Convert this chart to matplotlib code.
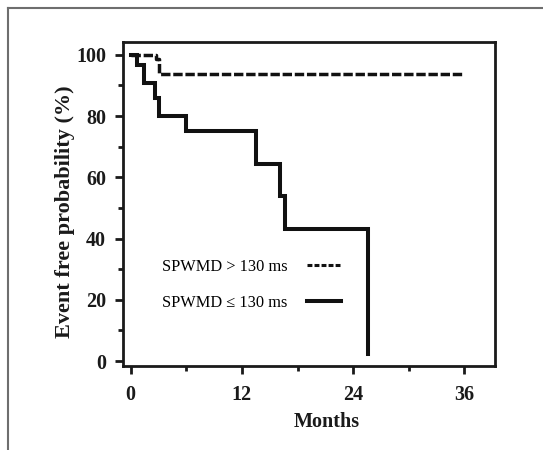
import matplotlib
matplotlib.use("Agg")
import matplotlib.pyplot as plt
from matplotlib.lines import Line2D
from matplotlib.ticker import MultipleLocator

# Data
months_short = [0, 0.65, 1.4, 2.6, 3.1, 6.0, 13.5, 16.1, 16.6, 25.6]
surv_short = [100, 96.7, 90.7, 86.0, 80.0, 75.2, 64.4, 54.0, 43.2, 2.3]
months_long = [0, 2.7, 3.1, 35.7]
surv_long = [100, 98.5, 93.7, 93.7]
label_long = "SPWMD > 130 ms"
label_short = "SPWMD \u2264 130 ms"
x_ticks = [0, 12, 24, 36]
y_ticks = [0, 20, 40, 60, 80, 100]
x_label = "Months"
y_label = "Event free probability (%)"

serif = ["Liberation Serif", "DejaVu Serif"]
plt.rcParams["font.family"] = serif

fig = plt.figure(figsize=(5.43, 4.5), dpi=100)
fig.patch.set_facecolor("white")
ax = fig.add_axes([123 / 543, 1 - 366 / 450, (495 - 123) / 543, (366 - 42) / 450])

ax.step(months_long, surv_long, where="post", color="#111111", lw=2.5,
        dashes=(2.7, 0.8), solid_joinstyle="miter")
ax.step(months_short, surv_short, where="post", color="#111111", lw=2.9,
        solid_joinstyle="miter")

ax.set_xlim(-0.83, 39.3)
ax.set_ylim(-1.6, 104.2)
ax.set_xticks(x_ticks)
ax.set_yticks(y_ticks)
ax.xaxis.set_minor_locator(MultipleLocator(6))
ax.yaxis.set_minor_locator(MultipleLocator(10))

for s in ax.spines.values():
    s.set_linewidth(2.0)
    s.set_color("#1a1a1a")
ax.tick_params(which="major", direction="out", length=5.8, width=2.0, color="#1a1a1a",
               labelsize=14.5)
ax.tick_params(axis="y", which="major", pad=6.5)
ax.tick_params(axis="x", which="major", pad=8)
ax.tick_params(which="minor", direction="out", length=3.6, width=2.0, color="#1a1a1a")
for lab in ax.get_xticklabels() + ax.get_yticklabels():
    lab.set_fontweight("bold")
    lab.set_color("#1a1a1a")

ax.set_xlabel(x_label, fontsize=14.5, fontweight="bold", color="#1a1a1a")
ax.set_ylabel(y_label, fontsize=16, fontweight="bold", color="#1a1a1a")
ax.xaxis.set_label_coords(0.548, -0.142)
ax.yaxis.set_label_coords(-0.13, 0.475)

h_long = Line2D([], [], color="#111111", lw=2.2, dashes=(1.6, 0.7))
h_short = Line2D([], [], color="#111111", lw=2.9)
ax.legend([h_long, h_short], [label_long, label_short], loc="upper left",
          bbox_to_anchor=(0.104, 0.33), frameon=False, markerfirst=False,
          prop={"family": serif, "size": 11.8}, handlelength=2.1, handletextpad=1.2,
          labelspacing=1.2, borderpad=0, borderaxespad=0)

# thin grey frame of the figure (left and top edges)
fig.add_artist(Line2D([7.5 / 543, 7.5 / 543], [0, 1 - 8 / 450], transform=fig.transFigure,
                      color="#6e6e6e", lw=1.5))
fig.add_artist(Line2D([7.5 / 543, 1], [1 - 8 / 450, 1 - 8 / 450], transform=fig.transFigure,
                      color="#6e6e6e", lw=1.5))

fig.savefig("out.png", dpi=100, facecolor="white")
